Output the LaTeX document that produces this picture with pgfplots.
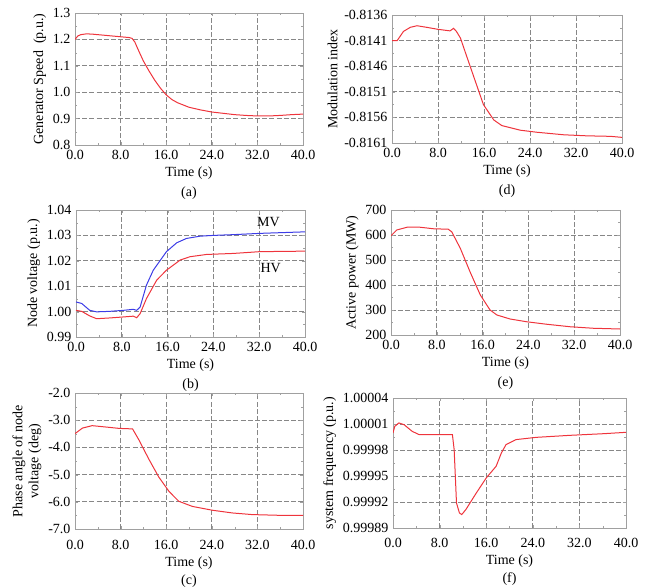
\documentclass[border=0pt]{standalone}
\usepackage{pgfplots}
\pgfplotsset{compat=1.18}
\usepackage{fontspec}
\setmainfont{Liberation Serif}
\definecolor{curvered}{RGB}{238,52,60}
\definecolor{curveblue}{RGB}{60,60,230}
\definecolor{gridgray}{RGB}{135,135,135}
\definecolor{framegray}{RGB}{160,160,160}
\pgfplotsset{
  panel/.style={
    scale only axis,
    xmin=0, xmax=40, xtick={0,8,...,40},
    grid=major,
    major grid style={dash pattern=on 5pt off 2.2pt, color=gridgray, line width=0.9pt},
    axis line style={framegray, line width=0.8pt},
    tick style={framegray},
    tick align=inside,
    minor x tick num=1, minor y tick num=1,
    major tick length=3pt, minor tick length=2pt,
    /pgf/number format/assume math mode=true,
    tick label style={font=\fontsize{14}{16}\selectfont},
    label style={font=\fontsize{14}{16}\selectfont},
    x tick label style={/pgf/number format/.cd, fixed, fixed zerofill, precision=1, /tikz/.cd, yshift=-1.5pt},
    y tick label style={xshift=-1pt},
    xlabel style={align=center},
    every axis plot/.append style={line width=1pt, no markers},
  }
}
\begin{document}
\begin{tikzpicture}
\path[use as bounding box] (0,0) rectangle (653pt,587pt);

% (a)
\begin{axis}[panel, at={(75pt,442pt)}, anchor=south west, width=228pt, height=132pt,
  ymin=0.8, ymax=1.3, ytick={0.8,0.9,...,1.3},
  y tick label style={/pgf/number format/.cd, fixed, fixed zerofill, precision=1, /tikz/.cd},
  ylabel={Generator Speed\ \ (p.u.)}, xlabel={Time (s)\\[4pt](a)}]
\addplot[curvered] coordinates {
(0,1.200) (0.5,1.213) (1,1.218) (2,1.221) (3,1.220) (4,1.218) (6,1.214) (8,1.210)
(9.5,1.207) (10,1.204) (10.5,1.190) (11,1.165) (12,1.118) (13,1.080) (14,1.045)
(15,1.015) (16,0.990) (17,0.972) (18,0.960) (20,0.943) (22,0.933) (24,0.925)
(26,0.920) (28,0.915) (30,0.912) (32,0.910) (34,0.910) (36,0.912) (38,0.915) (40,0.917)};
\end{axis}

% (d)
\begin{axis}[panel, at={(392pt,444pt)}, anchor=south west, width=230pt, height=128pt,
  ymin=-0.8161, ymax=-0.8136, ytick={-0.8161,-0.8156,-0.8151,-0.8146,-0.8141,-0.8136},
  y tick label style={/pgf/number format/.cd, fixed, fixed zerofill, precision=4, /tikz/.cd},
  ylabel={Modulation index}, xlabel={Time (s)\\[4pt](d)}]
\addplot[curvered] coordinates {
(0,-0.81410) (0.9,-0.81410) (2,-0.81392) (3.2,-0.81384) (4.35,-0.81381) (6,-0.81384)
(8,-0.81388) (10.1,-0.81391) (10.7,-0.81386) (11.2,-0.81392) (11.9,-0.81405)
(13.0,-0.81441) (14.2,-0.81480) (15.9,-0.81535) (17.7,-0.81565) (19.1,-0.81576)
(22.3,-0.81585) (25.2,-0.81589) (29.9,-0.81594) (33.9,-0.81596) (38,-0.81597) (40,-0.81599)};
\end{axis}

% (b)
\begin{axis}[panel, at={(76pt,250pt)}, anchor=south west, width=229pt, height=127pt,
  ymin=0.99, ymax=1.04, ytick={0.99,1.00,1.01,1.02,1.03,1.04},
  y tick label style={/pgf/number format/.cd, fixed, fixed zerofill, precision=2, /tikz/.cd},
  ylabel={Node voltage (p.u.)}, xlabel={Time (s)\\[4pt](b)}]
\addplot[curveblue] coordinates {
(0,1.0038) (1,1.0032) (2.4,1.0005) (3.6,0.9999) (5.9,1.0001) (8.3,1.0005) (10,1.0009)
(10.6,1.0005) (11.2,1.0018) (12.3,1.0104) (13.5,1.0163) (15.8,1.0236) (17.6,1.0271)
(19.3,1.0288) (21.7,1.0297) (24,1.0300) (27.5,1.0303) (32.1,1.0308) (40,1.0314)};
\addplot[curvered] coordinates {
(0,1.0005) (1,1.0001) (2.4,0.9983) (3.6,0.9972) (5.9,0.9975) (8.3,0.9979) (10,0.9982)
(10.6,0.9976) (11.2,0.9992) (12.3,1.0051) (14.1,1.0124) (15.8,1.0163) (18.2,1.0203)
(19.9,1.0216) (22.8,1.0225) (27.5,1.0229) (32.1,1.0236) (40,1.0238)};
\node[font=\fontsize{14}{16}\selectfont] at (axis cs:33.6,1.0354) {MV};
\node[font=\fontsize{14}{16}\selectfont] at (axis cs:34,1.0172) {HV};
\end{axis}

% (e)
\begin{axis}[panel, at={(391pt,252pt)}, anchor=south west, width=229pt, height=125pt,
  ymin=200, ymax=700, ytick={200,300,...,700},
  ylabel={Active power (MW)}, xlabel={Time (s)\\[4pt](e)}]
\addplot[curvered] coordinates {
(0,597) (1,620) (2.8,631) (5.1,631) (7.4,625) (10,623) (10.6,613) (12.1,547)
(13.8,453) (15.6,360) (17.3,300) (18.5,280) (20.8,264) (23.7,253) (27.2,243)
(31.3,233) (35.3,227) (40,224)};
\end{axis}

% (c)
\begin{axis}[panel, at={(75pt,58pt)}, anchor=south west, width=228pt, height=136pt,
  ymin=-7, ymax=-2, ytick={-7,-6,...,-2},
  y tick label style={/pgf/number format/.cd, fixed, fixed zerofill, precision=1, /tikz/.cd},
  x tick label style={yshift=-6pt},
  ylabel style={align=center},
  ylabel={Phase angle of node\\voltage (deg)}, xlabel={Time (s)\\[2pt](c)}]
\addplot[curvered] coordinates {
(0,-3.495) (1.3,-3.29) (3,-3.20) (5.4,-3.25) (7.7,-3.30) (10.1,-3.32) (11.2,-3.72)
(13,-4.45) (14.7,-5.09) (16.5,-5.62) (18.2,-5.98) (20.6,-6.17) (24.1,-6.31)
(27.6,-6.41) (31.1,-6.47) (36.4,-6.50) (40,-6.50)};
\end{axis}

% (f) -- y values are (frequency - 1) x 1e5 p.u., tick labels give the frequency
\begin{axis}[panel, at={(393pt,59pt)}, anchor=south west, width=233pt, height=130pt,
  ymin=-11, ymax=4, ytick={-11,-8,-5,-2,1,4},
  yticklabels={0.99989,0.99992,0.99995,0.99998,1.00001,1.00004},
  x tick label style={yshift=-5.5pt},
  ylabel={system frequency (p.u.)}, xlabel={Time (s)\\[2pt](f)}]
\addplot[curvered] coordinates {
(0,-0.04) (0.3,0.73) (1,1.12) (1.9,0.92) (3.3,0.15) (4.5,-0.23) (6.8,-0.23)
(10.2,-0.23) (10.5,-1.96) (10.9,-8.11) (11.4,-9.26) (11.8,-9.45) (12.5,-8.88)
(14.3,-6.96) (16.0,-5.23) (17.7,-3.88) (18.6,-2.35) (19.4,-1.38) (21.1,-0.80)
(24.6,-0.54) (30.3,-0.31) (36.1,-0.12) (40,0.04)};
\end{axis}
\end{tikzpicture}
\end{document}
